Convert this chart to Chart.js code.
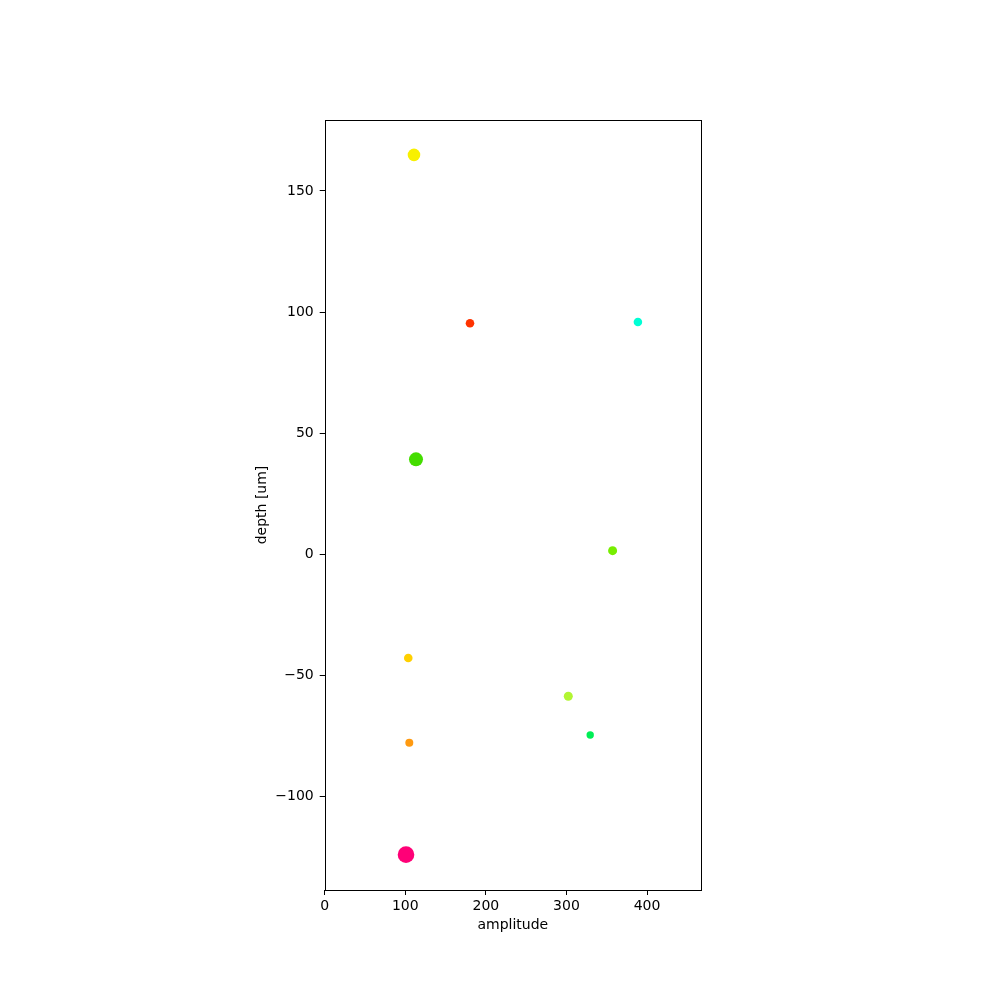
<!DOCTYPE html>
<html>
<head>
<meta charset="utf-8">
<script src="https://cdn.jsdelivr.net/npm/chart.js@4/dist/chart.umd.min.js"></script>
<style>
    body { margin: 0; background: #ffffff; }
    canvas { display: block; }
</style>
</head>
<body>
<canvas id="myChart" width="1000" height="1000"></canvas>
<script>
    // values
    const amplitude = [110.8, 180.3, 388.7, 113.3, 357.3, 103.7, 302.3, 329.5, 105.0, 100.9];
    const depth = [164.9, 95.4, 95.9, 39.2, 1.5, -42.8, -58.6, -74.6, -77.8, -124.0];
    const xTicks = [0, 100, 200, 300, 400];
    const yTicks = [-100, -50, 0, 50, 100, 150];

    // marker styling
    const markerRadius = [6.3, 4.3, 4.3, 7, 4.5, 4.3, 4.5, 3.7, 4, 8.3];
    const markerColor = ['#f8f000', '#ff3300', '#00ffd5', '#44dd00', '#77ee00',
                         '#ffd000', '#b2f533', '#00ee55', '#ff9a10', '#ff0077'];

    const points = amplitude.map((a, i) => ({ x: a, y: depth[i] }));
    const fontFamily = 'DejaVu Sans';
    const minus = v => String(v).replace('-', '\u2212');

    const frameBox = {
        id: 'frameBox',
        afterDraw(chart) {
            const { ctx, chartArea: a } = chart;
            ctx.save();
            ctx.strokeStyle = '#000';
            ctx.lineWidth = 1;
            ctx.strokeRect(Math.round(a.left) + 0.5, Math.round(a.top) + 0.5,
                Math.round(a.right - a.left), Math.round(a.bottom - a.top));
            ctx.restore();
        }
    };

    const data = {
        datasets: [{
            data: points,
            backgroundColor: markerColor,
            borderWidth: 0,
            pointRadius: markerRadius,
            pointHoverRadius: markerRadius
        }]
    };

    const config = {
        type: 'scatter',
        data: data,
        plugins: [frameBox],
        options: {
            responsive: false,
            animation: false,
            layout: { padding: { left: 245, right: 299, top: 120, bottom: 60 } },
            plugins: { legend: { display: false }, tooltip: { enabled: false } },
            scales: {
                x: {
                    type: 'linear',
                    min: 0,
                    max: 467,
                    afterFit: s => { s.height = 50; },
                    afterBuildTicks: s => { s.ticks = xTicks.map(v => ({ value: v })); },
                    grid: { drawOnChartArea: false, tickLength: 5, tickColor: '#000' },
                    border: { display: false },
                    ticks: { color: '#000', padding: 3, maxRotation: 0,
                             font: { family: fontFamily, size: 14 }, callback: v => minus(v) },
                    title: { display: true, text: 'amplitude', color: '#000',
                             font: { family: fontFamily, size: 14 }, padding: { top: 0, bottom: 6 } }
                },
                y: {
                    type: 'linear',
                    min: -138.6,
                    max: 179.3,
                    afterFit: s => { s.width = 79.7; },
                    afterBuildTicks: s => { s.ticks = yTicks.map(v => ({ value: v })); },
                    grid: { drawOnChartArea: false, tickLength: 5, tickColor: '#000' },
                    border: { display: false },
                    ticks: { color: '#000', padding: 6,
                             font: { family: fontFamily, size: 14 }, callback: v => minus(v) },
                    title: { display: true, text: 'depth [um]', color: '#000',
                             font: { family: fontFamily, size: 14 }, padding: { top: 9, bottom: 0 } }
                }
            }
        }
    };

    const myChart = new Chart(document.getElementById('myChart'), config);
</script>
</body>
</html>
